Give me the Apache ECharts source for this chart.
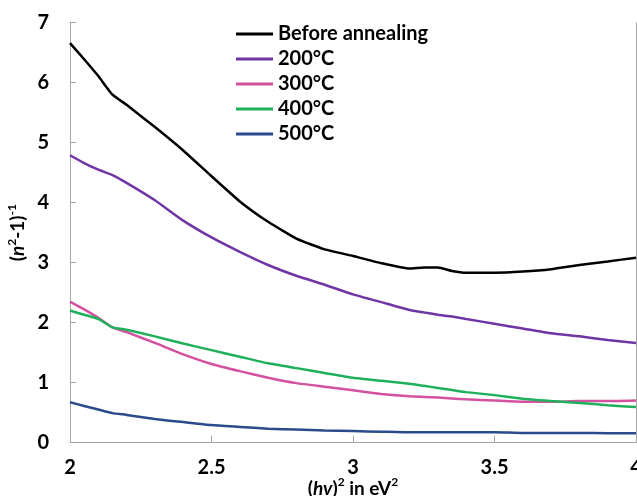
<!DOCTYPE html>
<html>
<head>
<meta charset="utf-8">
<script src="https://cdn.jsdelivr.net/npm/echarts@6/dist/echarts.min.js"></script>
<style>
  html, body { margin: 0; padding: 0; background: #fff; overflow: hidden; }
  #chart { width: 637px; height: 496px; }
</style>
</head>
<body>
<div id="chart"></div>
<script>
// Photon energy squared, (hv)^2 in eV^2
const hv2 = [2.0, 2.05, 2.1, 2.15, 2.2, 2.3, 2.4, 2.5, 2.6, 2.7, 2.8, 2.9, 3.0, 3.1, 3.2, 3.25, 3.3, 3.35, 3.4, 3.5, 3.6, 3.7, 3.8, 3.9, 4.0];

// (n^2 - 1)^-1 for each annealing condition
const beforeAnnealing = [6.66, 6.39, 6.11, 5.80, 5.63, 5.26, 4.87, 4.44, 4.02, 3.68, 3.40, 3.22, 3.11, 2.99, 2.90, 2.92, 2.92, 2.86, 2.83, 2.83, 2.85, 2.89, 2.96, 3.02, 3.08];
const t200 = [4.79, 4.66, 4.55, 4.46, 4.33, 4.04, 3.70, 3.42, 3.18, 2.96, 2.78, 2.63, 2.47, 2.34, 2.21, 2.17, 2.13, 2.10, 2.06, 1.98, 1.90, 1.82, 1.77, 1.71, 1.66];
const t300 = [2.35, 2.22, 2.08, 1.92, 1.84, 1.66, 1.47, 1.31, 1.19, 1.08, 0.99, 0.93, 0.87, 0.81, 0.77, 0.76, 0.75, 0.735, 0.72, 0.70, 0.68, 0.68, 0.69, 0.69, 0.70];
const t400 = [2.20, 2.13, 2.06, 1.92, 1.88, 1.77, 1.65, 1.54, 1.43, 1.32, 1.24, 1.16, 1.08, 1.03, 0.98, 0.945, 0.91, 0.875, 0.84, 0.79, 0.73, 0.69, 0.66, 0.62, 0.59];
const t500 = [0.67, 0.61, 0.55, 0.49, 0.46, 0.39, 0.34, 0.29, 0.26, 0.23, 0.215, 0.20, 0.19, 0.18, 0.17, 0.17, 0.17, 0.17, 0.17, 0.17, 0.16, 0.16, 0.16, 0.155, 0.155];

const seriesNames = ['Before annealing', '200°C', '300°C', '400°C', '500°C'];
const seriesColors = ['#000000', '#7035a5', '#d4519f', '#1fb05c', '#2b4a8c'];
const seriesValues = [beforeAnnealing, t200, t300, t400, t500];

const FONT = 'Lato';
const axisGray = '#a6a6a6';

// rich-text styles for axis titles: plain, italic symbol, raised superscript
const titleRich = {
  p: { fontFamily: FONT, fontWeight: 'bold', fontSize: 19, lineHeight: 24, color: '#000' },
  i: { fontFamily: FONT, fontWeight: 'bold', fontStyle: 'italic', fontSize: 19, lineHeight: 24, color: '#000' },
  s: { fontFamily: FONT, fontWeight: 'bold', fontSize: 12, lineHeight: 14, verticalAlign: 'top', color: '#000' }
};

const chart = echarts.init(document.getElementById('chart'), null, { renderer: 'canvas' });

chart.setOption({
  animation: false,
  backgroundColor: '#ffffff',
  grid: { left: 70, right: 1, top: 22.7, bottom: 53.5, containLabel: false, outerBoundsMode: 'none' },
  legend: {
    orient: 'vertical',
    left: 231,
    top: 16.5,
    icon: 'rect',
    itemWidth: 37,
    itemHeight: 3,
    itemGap: 0,
    selectedMode: false,
    data: seriesNames,
    textStyle: { fontFamily: FONT, fontWeight: 'bold', fontSize: 20, color: '#000', lineHeight: 25 }
  },
  xAxis: {
    type: 'value',
    min: 2, max: 4, interval: 0.5,
    axisLine: { show: true, lineStyle: { color: axisGray, width: 1 } },
    axisTick: { show: true, inside: true, length: 7, lineStyle: { color: axisGray } },
    splitLine: { show: false },
    axisLabel: { margin: 15.5, color: '#000', fontFamily: FONT, fontWeight: 'bold', fontSize: 20 },
    name: '{p|(}{i|hv}{p|)}{s|2}{p| in eV}{s|2}',
    nameLocation: 'middle',
    nameGap: 34,
    nameMoveOverlap: false,
    nameTextStyle: { rich: titleRich }
  },
  yAxis: [{
    type: 'value',
    min: 0, max: 7, interval: 1,
    axisLine: { show: true, lineStyle: { color: axisGray, width: 1 } },
    axisTick: { show: true, inside: true, length: 6, lineStyle: { color: axisGray } },
    splitLine: { show: false },
    axisLabel: { margin: 21, color: '#000', fontFamily: FONT, fontWeight: 'bold', fontSize: 20 },
    name: '{p|(}{i|n}{s|2}{p|-1)}{s|-1}',
    nameLocation: 'middle',
    nameRotate: 90,
    nameGap: 40,
    nameMoveOverlap: false,
    nameTextStyle: { rich: titleRich }
  }, {
    // right-hand frame line of the plot area
    type: 'value',
    position: 'right',
    min: 0, max: 7, interval: 1,
    axisLine: { show: true, lineStyle: { color: axisGray, width: 1 } },
    axisTick: { show: false },
    axisLabel: { show: false },
    splitLine: { show: false }
  }],
  series: seriesNames.map((name, k) => ({
    name: name,
    type: 'line',
    yAxisIndex: 0,
    symbol: 'none',
    smooth: 0.15,
    color: seriesColors[k],
    lineStyle: { width: 2.5, color: seriesColors[k] },
    data: hv2.map((x, i) => [x, seriesValues[k][i]])
  }))
});
</script>
</body>
</html>
